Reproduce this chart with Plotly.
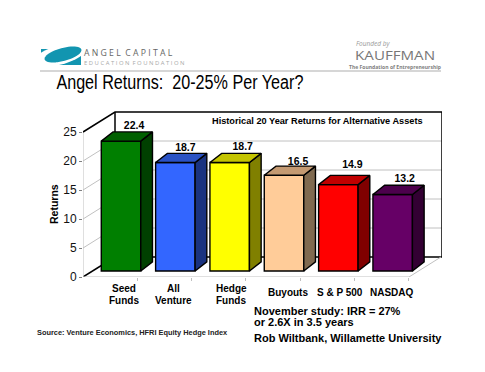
import math
import plotly.graph_objects as go

categories = ["Seed<br>Funds", "All<br>Venture", "Hedge<br>Funds", "Buyouts", "S & P 500", "NASDAQ"]
values = [22.4, 18.7, 18.7, 16.5, 14.9, 13.2]
front_colors = ["#007f00", "#3366ff", "#ffff00", "#ffcc99", "#ff0000", "#660066"]
top_colors = ["#006000", "#2a52c4", "#c4c400", "#c49a72", "#c00000", "#4c004c"]
side_colors = ["#004000", "#1a3380", "#808000", "#806a50", "#800000", "#330033"]
y_ticks = [0, 5, 10, 15, 20, 25]

W, H = 485, 372
L, R, T, B = 83, 442, 111, 277
PX_X = 54.33
PX_Y = 5.8
X0 = -0.5
WALL_DX = 32 / PX_X
WALL_DY = 20 / PX_Y
BAR_SHIFT = 0.2
BAR_W = 0.727
BAR_BASE = 6 / PX_Y
DEPTH_DX = 11.7 / PX_X
DEPTH_DY = 9.2 / PX_Y
LABEL_DX_PX = [13, 10, 13, 14, 14, 12]
LABEL_DY_PX = [6, 5, 6, 4, 10, 6]
N = len(categories)
x_end = X0 + (R - L) / PX_X
y_end = (B - T) / PX_Y
floor_end = X0 + N

fig = go.Figure()
shapes = []


def line(xs, ys, color, width=1):
    fig.add_trace(go.Scatter(x=xs, y=ys, mode="lines", line=dict(color=color, width=width),
                             hoverinfo="skip", showlegend=False, cliponaxis=False))


def back(xs, ys, color, width=1):
    for a in range(len(xs) - 1):
        shapes.append(dict(type="line", xref="x", yref="y", layer="below",
                           x0=xs[a], x1=xs[a + 1], y0=ys[a], y1=ys[a + 1],
                           line=dict(color=color, width=width)))


def poly(xs, ys, fill, color="#000000", width=1.4):
    fig.add_trace(go.Scatter(x=xs + xs[:1], y=ys + ys[:1], mode="lines", fill="toself", fillcolor=fill,
                             line=dict(color=color, width=width), hoverinfo="skip",
                             showlegend=False, cliponaxis=False))


# walls behind the bars
for v in y_ticks[1:-1]:
    back([X0, X0 + WALL_DX, x_end], [v, v + WALL_DY, v + WALL_DY], "#c0c0c0", 1)
back([X0 + WALL_DX, x_end], [WALL_DY, WALL_DY], "#000000", 1.5)
back([X0 + WALL_DX, X0 + WALL_DX], [WALL_DY, 25 + WALL_DY], "#000000", 1.5)
back([X0, X0 + WALL_DX], [0, WALL_DY], "#000000", 1.5)

# edges that do not pass behind a bar
line([X0, floor_end, floor_end + WALL_DX], [0, 0, WALL_DY], "#c0c0c0", 1)
line([X0, X0], [0, 25], "#c0c0c0", 1)
line([X0, X0 + WALL_DX, x_end, x_end], [25, 25 + WALL_DY, 25 + WALL_DY, WALL_DY], "#000000", 1.5)

xc = [i + BAR_SHIFT for i in range(N)]

# side + top faces derived from the values
for i, v in enumerate(values):
    x1 = xc[i] + BAR_W / 2
    x0 = xc[i] - BAR_W / 2
    top = BAR_BASE + v
    poly([x1, x1 + DEPTH_DX, x1 + DEPTH_DX, x1],
         [BAR_BASE, BAR_BASE + DEPTH_DY, top + DEPTH_DY, top], side_colors[i])
    poly([x0, x1, x1 + DEPTH_DX, x0 + DEPTH_DX],
         [top, top, top + DEPTH_DY, top + DEPTH_DY], top_colors[i])

fig.add_trace(go.Bar(
    x=xc, y=values, base=[BAR_BASE] * N, width=BAR_W,
    marker=dict(color=front_colors, line=dict(color="#000000", width=1.4)),
    hoverinfo="skip", showlegend=False,
))

fig.add_trace(go.Scatter(
    x=[xc[i] + LABEL_DX_PX[i] / PX_X for i in range(N)],
    y=[BAR_BASE + values[i] + DEPTH_DY + LABEL_DY_PX[i] / PX_Y for i in range(N)],
    mode="text", text=[f"{v:.1f}" for v in values], textposition="middle center",
    textfont=dict(family="Liberation Sans", size=10.5, color="#000000"),
    texttemplate="<b>%{text}</b>", hoverinfo="skip", showlegend=False, cliponaxis=False,
))

fig.update_xaxes(
    range=[X0, x_end], showgrid=False, zeroline=False, showline=False,
    tickmode="array", tickvals=[i + 0.5 for i in range(N)], ticktext=[""] * N,
    ticks="outside", ticklen=3, tickcolor="#c0c0c0", tickwidth=1,
)
fig.update_yaxes(
    range=[0, y_end], showgrid=False, zeroline=False, showline=False,
    tickmode="array", tickvals=y_ticks, ticks="outside", ticklen=3, tickcolor="#808080",
    tickfont=dict(family="Liberation Sans", size=12, color="#111111"),
)


def px_x(p):
    return (p - L) / (R - L)


def px_y(p):
    return 1 - (p - T) / (B - T)


ann = []


def text(px, py, s, size, color="#000000", family="Liberation Sans", anchor="left", **kw):
    ann.append(dict(x=px_x(px), y=px_y(py), xref="paper", yref="paper", text=s, showarrow=False,
                    xanchor=anchor, yanchor="middle", align=anchor, borderpad=0, borderwidth=0,
                    font=dict(family=family, size=size, color=color), **kw))


# category labels
label_x = [124, 173, 231, 288, 340, 392]
for lx, c in zip(label_x, categories):
    parts = c.split("<br>")
    if len(parts) == 2:
        text(lx, 288, f"<b>{parts[0]}</b>", 10, anchor="center")
        text(lx, 300, f"<b>{parts[1]}</b>", 10, anchor="center")
    else:
        text(lx, 292, f"<b>{parts[0]}</b>", 10, anchor="center")

text(54, 204, "<b>Returns</b>", 10.5, anchor="center", textangle=-90)
text(179.5, 82, "Angel Returns:  20-25% Per Year?", 20, anchor="center")
text(317, 121, "<b>Historical 20 Year Returns for Alternative Assets</b>", 9.2, anchor="center")
text(254, 311, "<b>November study: IRR = 27%</b>", 11)
text(254, 322, "<b>or 2.6X in 3.5 years</b>", 11)
text(254, 338, "<b>Rob Wiltbank, Willamette University</b>", 11)
text(37, 332, "<b>Source: Venture Economics, HFRI Equity Hedge Index</b>", 7.4, color="#222222")
text(84, 52.5, "A N G E L  C A P I T A L", 8.7, color="#666666", family="Open Sans")
text(84, 63, "E D U C A T I O N  F O U N D A T I O N", 5.9, color="#a8a8a8", family="Open Sans")
text(356, 43, "<i>Founded by</i>", 6.5, color="#999999", family="Open Sans")
text(395, 56, "KAUFFMAN", 12.5, color="#777777", family="Open Sans", anchor="center")
text(395, 66.5, "<b>The Foundation of Entrepreneurship</b>", 5.5, color="#808080", family="Open Sans", anchor="center")


def rect_px(x0, x1, y0, y1, fill):
    shapes.append(dict(type="rect", xref="paper", yref="paper", x0=px_x(x0), x1=px_x(x1),
                       y0=px_y(y0), y1=px_y(y1), fillcolor=fill, line=dict(width=0)))


def tilted_ellipse(cx, cy, a, b, deg, fill):
    t = math.radians(deg)
    pts = []
    for k in range(48):
        u = 2 * math.pi * k / 48
        ex, ey = a * math.cos(u), b * math.sin(u)
        pts.append((px_x(cx + ex * math.cos(t) - ey * math.sin(t)),
                    px_y(cy + ex * math.sin(t) + ey * math.cos(t))))
    path = "M" + " L".join(f"{p[0]:.5f},{p[1]:.5f}" for p in pts) + " Z"
    shapes.append(dict(type="path", xref="paper", yref="paper", path=path, fillcolor=fill, line=dict(width=0)))


shapes.append(dict(type="line", xref="paper", yref="paper", x0=px_x(40), x1=px_x(441),
                   y0=px_y(71), y1=px_y(71), line=dict(color="#c8c8c8", width=1.5)))
rect_px(41, 81, 49, 65, "#1295b0")
tilted_ellipse(60, 55, 27, 9.5, -15, "#ffffff")
rect_px(81, 88, 44, 66, "#ffffff")
rect_px(50, 88, 44, 49, "#ffffff")
tilted_ellipse(63, 54.5, 19, 6.5, -15, "#1295b0")

fig.update_layout(
    width=W, height=H, autosize=False,
    margin=dict(l=L, r=W - R, t=T, b=H - B, pad=0),
    paper_bgcolor="#ffffff", plot_bgcolor="#ffffff",
    showlegend=False, barmode="overlay", annotations=ann, shapes=shapes,
)

post = """
document.body.style.margin='0';document.body.style.overflow='hidden';
function fit(){
  var want={'Angel Returns:':247,'KAUFFMAN':80,'The Foundation':92};
  document.querySelectorAll('.annotation-text').forEach(function(t){
    for(var k in want){ if(t.textContent.indexOf(k)===0){
      t.setAttribute('textLength',want[k]); t.setAttribute('lengthAdjust','spacingAndGlyphs');
    }}
  });
}
fit(); setTimeout(fit,50); setTimeout(fit,300);
"""
fig.write_html("out.html", config=dict(displayModeBar=False), post_script=post)
